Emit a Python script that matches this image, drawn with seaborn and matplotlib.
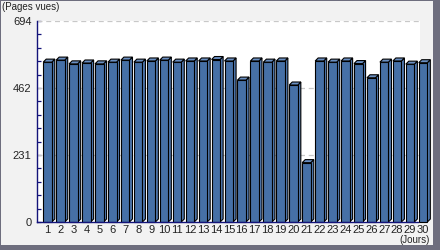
import matplotlib
matplotlib.use("Agg")
import matplotlib.pyplot as plt
import matplotlib.patches as mpatches
import seaborn as sns
import pandas as pd
import numpy as np

# ---- data ----
days = [str(d) for d in range(1, 31)]
pages = [552, 559, 546, 549, 546, 552, 559, 552, 556, 559,
         552, 556, 556, 561, 556, 490, 556, 552, 556, 473,
         205, 556, 552, 556, 547, 498, 552, 556, 545, 550]
y_ticks = [0, 231.33, 462.67, 694]
y_tick_labels = ["0", "231", "462", "694"]
y_max = 694
y_label = "(Pages vues)"
x_label = "(Jours)"

sns.set_theme(style="white")
plt.rcParams['font.family'] = ['Liberation Sans', 'DejaVu Sans']

W, H = 440, 250
fig = plt.figure(figsize=(W / 100, H / 100), dpi=100)
fig.patch.set_facecolor("#6e6e7e")
fig.patches.append(mpatches.Rectangle((1 / W, 1 - 245 / H), 432 / W, 244 / H,
                                      transform=fig.transFigure, facecolor="#f2f2f2",
                                      edgecolor="none", zorder=-10))

ax_l, ax_r, ax_t, ax_b = 37, 433, 21, 222
ax = fig.add_axes([ax_l / W, 1 - ax_b / H, (ax_r - ax_l) / W, (ax_b - ax_t) / H])
ax.set_facecolor("none")

spacing = 12.95  # px per category
x0 = (ax_l - 47.5) / spacing
x1 = x0 + (ax_r - ax_l) / spacing
white_frac = (420 - ax_l) / (ax_r - ax_l)
ax.add_patch(mpatches.Rectangle((0, 0), white_frac, 1, transform=ax.transAxes,
                                facecolor="white", edgecolor="none", zorder=0))

df = pd.DataFrame({"day": days, "pages": pages})
front = "#4670a6"
sns.barplot(data=df, x="day", y="pages", ax=ax, color=front, saturation=1,
            width=0.66, edgecolor="black", linewidth=0.8, zorder=3)
bars = list(ax.containers[0])

ax.set_xlim(x0, x1)
ax.set_ylim(0, y_max)

# gridlines
for yv in y_ticks[1:]:
    ax.axhline(yv, xmin=0, xmax=white_frac, color="#c8c8c8", lw=0.9,
               ls=(0, (4, 3)), zorder=1)

# 3D faces
dpx = 3.0
sx = (x1 - x0) / (ax_r - ax_l)
sy = y_max / (ax_b - ax_t)
dx, dy = dpx * sx, dpx * sy
for p in bars:
    xl = p.get_x()
    w = p.get_width()
    h = p.get_height()
    xr = xl + w
    top = mpatches.Polygon([(xl, h), (xl + dx, h + dy), (xr + dx, h + dy), (xr, h)],
                           closed=True, facecolor="#6a8fc2", edgecolor="black",
                           lw=0.8, zorder=3, clip_on=False)
    side = mpatches.Polygon([(xr, 0), (xr + dx, dy), (xr + dx, h + dy), (xr, h)],
                            closed=True, facecolor="#5079b0", edgecolor="black",
                            lw=0.8, zorder=2.9, clip_on=False)
    ax.add_patch(side)
    ax.add_patch(top)
    p.set_clip_on(False)

navy = "#14147a"
sns.despine(ax=ax, top=True, right=True)
ax.spines["left"].set_color(navy)
ax.spines["bottom"].set_color(navy)
ax.spines["left"].set_linewidth(1.0)
ax.spines["bottom"].set_linewidth(1.0)
ax.spines["bottom"].set_bounds(x0, (418 - 47.5) / spacing)
ax.spines["bottom"].set_zorder(4)

ax.set_yticks(y_ticks)
ax.set_yticklabels(y_tick_labels)
minor = [v for v in np.linspace(0, y_max, 16) if min(abs(v - t) for t in y_ticks) > 1]
ax.set_yticks(minor, minor=True)
ax.tick_params(axis="y", which="both", direction="in", length=3, width=0.9,
               color=navy, labelsize=8, pad=4, left=True, labelcolor="#222222")
ax.tick_params(axis="x", length=0, labelsize=8, pad=2.5, labelcolor="#222222")
ax.set_xlabel("")
ax.set_ylabel("")

fig.text(2 / W, 1 - 2 / H, y_label, ha="left", va="top", fontsize=7, color="#222222")
fig.text(430 / W, 1 - 235 / H, x_label, ha="right", va="top", fontsize=7, color="#222222")

fig.savefig("out.png", dpi=100, facecolor=fig.get_facecolor())
